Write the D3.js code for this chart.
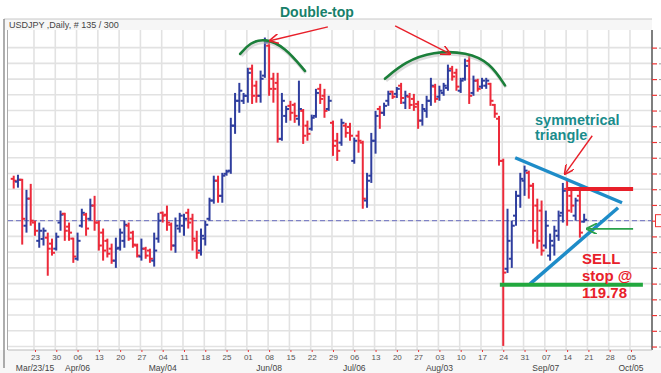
<!DOCTYPE html>
<html>
<head>
<meta charset="utf-8">
<script src="https://cdn.jsdelivr.net/npm/d3@7"></script>
<style>
body { margin: 0; background: #fff; }
svg { display: block; font-family: Arial, "Liberation Sans", sans-serif; }
</style>
</head>
<body>
<div id="chart"></div>
<script>
// first bar of the chart (Monday), bars are weekdays only
var startDay = "2015-03-16";

var opens = [121.33,121.24,121.30,119.84,120.70,119.94,119.36,119.42,119.46,119.27,
  119.11,119.94,120.22,119.81,119.43,118.79,119.84,120.19,120.06,120.48,
  119.94,119.62,119.36,119.11,118.73,119.14,119.36,119.84,119.62,119.21,
  118.86,119.11,119.05,118.73,119.43,120.25,120.19,119.87,119.21,119.75,
  119.84,120.25,120.06,119.36,119.05,119.43,120.06,120.64,121.27,120.79,
  121.49,121.59,123.02,123.81,123.81,123.97,124.83,124.29,123.97,124.61,
  125.56,124.51,124.38,122.60,123.33,123.65,123.68,123.24,123.49,123.02,
  122.92,123.33,124.19,123.97,123.55,123.11,122.54,122.48,123.02,122.98,
  121.90,122.70,122.48,120.64,121.43,122.54,123.55,123.43,123.81,124.10,
  124.03,124.29,123.75,123.94,123.87,123.71,123.18,123.49,123.81,124.26,
  123.94,124.06,124.22,124.83,124.70,124.13,124.51,125.08,124.06,124.45,
  124.26,124.29,124.35,123.68,123.24,121.90,118.47,118.79,120.16,120.79,
  121.27,121.52,121.11,120.48,120.32,119.21,118.89,119.21,119.52,120.25,
  121.01,120.79,120.16,120.79,119.97];
var highs = [121.43,121.46,121.33,120.98,121.17,120.00,119.94,119.78,119.62,119.43,
  119.62,120.32,120.25,119.94,119.46,119.62,120.38,120.25,120.70,120.79,
  120.00,119.75,119.43,119.27,119.46,119.75,120.00,119.94,119.68,119.27,
  119.43,119.17,119.11,119.62,120.25,120.29,120.48,119.94,120.10,120.25,
  120.22,120.38,120.22,119.68,119.75,120.00,120.73,121.43,121.43,121.52,
  121.62,123.27,124.06,124.38,124.06,124.86,124.96,124.45,124.77,125.82,
  125.72,124.70,124.70,124.06,123.65,123.81,123.75,124.45,123.55,123.18,
  123.37,124.19,124.35,124.19,123.97,123.18,122.79,123.24,123.11,123.11,
  122.64,122.86,122.54,121.52,122.79,123.49,123.65,123.75,124.13,124.13,
  124.25,124.38,124.13,124.06,124.03,123.81,123.71,123.97,124.54,124.35,
  124.29,124.38,124.96,124.92,124.83,124.54,125.15,125.24,124.61,124.51,
  124.54,124.54,124.38,123.71,123.33,121.97,120.38,120.00,120.95,121.52,
  121.75,121.59,121.20,120.70,120.64,120.32,119.59,119.84,120.32,121.20,
  121.27,120.95,120.73,121.08,120.22];
var lows = [121.02,121.05,119.24,119.62,119.84,119.52,119.14,119.21,118.25,118.89,
  119.05,119.68,119.36,119.36,118.66,118.73,119.78,119.52,120.00,119.68,
  119.05,118.73,118.83,118.63,118.50,119.05,119.14,119.36,119.14,118.83,
  118.73,118.79,118.66,118.54,119.30,119.94,119.68,119.05,118.98,119.62,
  119.52,119.75,119.05,118.79,118.89,119.21,120.00,120.54,120.57,120.57,
  121.43,121.49,122.76,123.43,123.71,123.75,123.71,123.75,123.75,124.54,
  123.97,123.75,122.48,122.54,123.11,123.18,123.11,123.02,122.44,122.54,
  122.86,123.27,123.71,123.27,123.49,122.06,121.90,122.38,122.64,122.54,
  121.81,122.16,120.38,120.41,121.20,122.13,122.92,123.33,123.65,123.87,
  123.90,123.71,123.55,123.55,123.49,122.92,123.02,123.27,123.65,123.75,
  123.81,123.97,124.13,124.45,124.13,124.06,124.45,123.71,123.97,124.10,
  124.19,124.19,123.65,123.27,121.75,116.02,118.34,118.50,119.84,120.41,
  120.79,120.70,119.27,119.11,118.89,119.11,118.73,118.89,119.36,119.94,
  119.84,120.25,120.00,119.46,119.94];
var closes = [121.27,121.30,120.06,120.70,120.00,119.68,119.68,119.68,119.11,118.98,
  119.49,120.19,119.68,119.62,118.86,119.36,120.25,119.75,120.48,119.94,
  119.21,119.05,118.95,118.73,119.11,119.62,119.87,119.43,119.24,118.89,
  119.11,118.89,118.79,119.05,120.00,120.16,119.94,119.21,119.84,120.16,
  120.06,119.94,119.43,118.98,119.52,119.87,120.64,121.27,120.79,121.43,
  121.56,123.02,123.81,124.13,123.97,124.70,123.97,123.97,124.51,125.66,
  124.19,124.19,122.60,123.81,123.55,123.43,123.33,123.55,122.70,122.76,
  123.27,124.06,123.87,123.49,123.81,122.38,122.22,123.11,122.79,122.70,
  122.54,122.54,120.70,121.27,122.54,123.33,123.43,123.65,124.03,123.94,
  124.19,123.90,123.97,123.68,123.62,123.18,123.55,123.81,124.29,123.87,
  124.13,124.29,124.77,124.58,124.26,124.45,124.92,123.97,124.45,124.19,
  124.45,124.45,123.81,123.40,121.90,118.35,119.36,119.84,120.79,121.33,
  121.59,121.11,119.68,119.36,119.05,119.84,119.36,119.68,120.16,120.95,
  120.32,120.48,120.64,119.62,120.03];

var weekLabels = ["23","30","06","13","20","27","04","11","18","25","01","08","15","22","29",
  "06","13","20","27","03","10","17","24","31","07","14","21","28","05"];
var firstWeek = "2015-03-23";
var monthLabels = ["Mar/23/15","Apr/06","May/04","Jun/08","Jul/06","Aug/03","Sep/07","Oct/05"];
var monthDays = ["2015-03-23","2015-04-06","2015-05-04","2015-06-08","2015-07-06","2015-08-03","2015-09-07","2015-10-05"];
var priceTicks = [116,116.5,117,117.5,118,118.5,119,119.5,120,120.5,121,121.5,122,122.5,
  123,123.5,124,124.5,125,125.5];
var lastPrice = 120.00;
var title = "USDJPY ,Daily, # 135 / 300";

var W = 661, H = 373;
var plot = {left: 8, right: 652, top: 30, bottom: 350};
var upColor = "#2f3e9e", downColor = "#ec2a3a";

var parse = d3.timeParse("%Y-%m-%d");
var t0 = parse(startDay);
function dayIndex(s) {
  var d = parse(s);
  var days = Math.round((d - t0) / 864e5);
  return Math.floor(days / 7) * 5 + (days % 7);
}

var bars = opens.map(function(o, i) {
  return {i: i, open: o, high: highs[i], low: lows[i], close: closes[i]};
});

var x = d3.scaleLinear().domain([-1.34, 149.94]).range([plot.left, plot.right]);
var y = d3.scaleLinear().domain([115.89, 126.06]).range([plot.bottom, plot.top]);

var svg = d3.select("#chart").append("svg")
  .attr("width", W).attr("height", H);

// bottom band for date labels
svg.append("rect").attr("x", 0).attr("y", plot.bottom).attr("width", W).attr("height", H - plot.bottom)
  .attr("fill", "#f7f7f7");

// title strip
svg.append("rect").attr("x", 4).attr("y", 19).attr("width", plot.right - 4).attr("height", plot.top - 19)
  .attr("fill", "#f6f6f6");
svg.append("line").attr("x1", 4).attr("x2", plot.right).attr("y1", 19).attr("y2", 19)
  .attr("stroke", "#c8c8c8");
svg.append("text").attr("x", 9).attr("y", 28).text(title)
  .style("font-size", "9px").attr("fill", "#444");

// grid
var weekIdx = weekLabels.map(function(l, j) { return dayIndex(firstWeek) + j * 5; });
svg.append("g").selectAll("line").data(weekIdx).enter().append("line")
  .attr("x1", function(d) { return x(d) - 1; }).attr("x2", function(d) { return x(d) - 1; })
  .attr("y1", plot.top).attr("y2", plot.bottom)
  .attr("stroke", "#e2e2e2").attr("stroke-width", 1.6);
svg.append("g").selectAll("line").data(priceTicks).enter().append("line")
  .attr("x1", plot.left).attr("x2", plot.right)
  .attr("y1", function(d) { return y(d); }).attr("y2", function(d) { return y(d); })
  .attr("stroke", "#e2e2e2").attr("stroke-width", 1.6);

// frame
svg.append("line").attr("x1", plot.right).attr("x2", plot.right).attr("y1", plot.top).attr("y2", plot.bottom)
  .attr("stroke", "#555").attr("stroke-width", 1.5);
svg.append("line").attr("x1", plot.left).attr("x2", plot.right).attr("y1", plot.bottom).attr("y2", plot.bottom)
  .attr("stroke", "#bbb").attr("stroke-width", 1);
svg.append("line").attr("x1", 4).attr("x2", 4).attr("y1", 19).attr("y2", 368)
  .attr("stroke", "#777").attr("stroke-width", 1.2);
svg.append("line").attr("x1", 7.5).attr("x2", 7.5).attr("y1", plot.top).attr("y2", plot.bottom)
  .attr("stroke", "#aaa").attr("stroke-width", 1);

// right price axis: only the red ticks and the first grey stroke of each
// label fit inside the window, so draw just those
var yAxis = svg.append("g").attr("transform", "translate(" + plot.right + ",0)")
  .call(d3.axisRight(y).tickValues(priceTicks).tickSize(5).tickFormat(""));
yAxis.select(".domain").remove();
yAxis.selectAll("line").attr("stroke", "#e33").attr("stroke-width", 1.2);
yAxis.selectAll(".tick").append("line")
  .attr("x1", 7).attr("x2", 9).attr("y1", 0).attr("y2", 0)
  .attr("stroke", "#999").attr("stroke-width", 1);

// bottom date axis
var xAxis = svg.append("g").attr("transform", "translate(0," + plot.bottom + ")")
  .call(d3.axisBottom(x).tickValues(weekIdx).tickSize(2)
    .tickFormat(function(d, j) { return weekLabels[j]; }));
xAxis.select(".domain").remove();
xAxis.selectAll("line").attr("stroke", "#e33");
xAxis.selectAll("text").attr("y", 4).attr("dy", "0.71em").attr("fill", "#555").style("font-size", "8px");

svg.append("g").selectAll("text").data(monthLabels).enter().append("text")
  .attr("x", function(d, j) { return x(dayIndex(monthDays[j])); })
  .attr("y", 371).attr("text-anchor", "middle")
  .style("font-size", "8.5px").attr("fill", "#444")
  .text(function(d) { return d; });

// current price line and its (clipped) price box
svg.append("line").attr("x1", plot.left).attr("x2", plot.right)
  .attr("y1", y(lastPrice)).attr("y2", y(lastPrice))
  .attr("stroke", "#6b6fc0").attr("stroke-width", 1).attr("stroke-dasharray", "5,3");
svg.append("rect").attr("x", 655.5).attr("y", y(lastPrice) - 6).attr("width", 14).attr("height", 12)
  .attr("fill", "#fff").attr("stroke", "#e33");

// OHLC bars
var g = svg.append("g");
var barG = g.selectAll("g.bar").data(bars).enter().append("g").attr("class", "bar")
  .attr("stroke", function(d) { return d.close >= d.open ? upColor : downColor; })
  .attr("stroke-width", 2);
barG.append("line")
  .attr("x1", function(d) { return x(d.i); }).attr("x2", function(d) { return x(d.i); })
  .attr("y1", function(d) { return y(d.high); }).attr("y2", function(d) { return y(d.low); });
barG.append("line")
  .attr("x1", function(d) { return x(d.i) - 3; }).attr("x2", function(d) { return x(d.i); })
  .attr("y1", function(d) { return y(d.open); }).attr("y2", function(d) { return y(d.open); });
barG.append("line")
  .attr("x1", function(d) { return x(d.i); }).attr("x2", function(d) { return x(d.i) + 3; })
  .attr("y1", function(d) { return y(d.close); }).attr("y2", function(d) { return y(d.close); });

// ---- hand drawn annotations, in (bar index, price) ----
var defs = svg.append("defs");
function marker(id, color) {
  defs.append("marker").attr("id", id).attr("viewBox", "0 0 10 10")
    .attr("refX", 9).attr("refY", 5).attr("markerWidth", 7).attr("markerHeight", 7)
    .attr("orient", "auto-start-reverse")
    .append("path").attr("d", "M0,0 L10,5 L0,10").attr("fill", "none")
    .attr("stroke", color).attr("stroke-width", 1.6);
}
marker("redHead", "#e8202a");
marker("greenHead", "#2aa14a");

var line = d3.line().x(function(p) { return x(p[0]); }).y(function(p) { return y(p[1]); });
var curve = d3.line().x(function(p) { return x(p[0]); }).y(function(p) { return y(p[1]); })
  .curve(d3.curveBasis);

var topArcs = [
  [[53.2, 125.30], [55.5, 125.66], [59.0, 125.80], [63.7, 125.52], [68.4, 124.76]],
  [[87.2, 124.51], [91.9, 125.05], [98.5, 125.38], [106.5, 125.36], [111.9, 125.02], [115.4, 124.30]]
];
topArcs.forEach(function(a) {
  svg.append("path").attr("d", curve(a)).attr("fill", "none")
    .attr("stroke", "#bbb").attr("stroke-width", 3.5).attr("opacity", 0.5)
    .attr("transform", "translate(1,2)");
  svg.append("path").attr("d", curve(a)).attr("fill", "none")
    .attr("stroke", "#1b7f3a").attr("stroke-width", 2.6).attr("stroke-linecap", "round");
});

var redArrows = [
  [[73.8, 126.16], [60.2, 125.72]],
  [[89.6, 126.19], [102.5, 125.30]],
  [[135.9, 122.70], [129.5, 121.49]]
];
redArrows.forEach(function(a) {
  svg.append("path").attr("d", line(a)).attr("stroke", "#e8202a").attr("stroke-width", 1.4)
    .attr("fill", "none").attr("marker-end", "url(#redHead)");
});

var triangle = [
  [[117.8, 122.00], [142.9, 120.57]],
  [[121.3, 117.99], [141.97, 120.41]]
];
triangle.forEach(function(a) {
  svg.append("path").attr("d", line(a)).attr("stroke", "#1e8cc8").attr("stroke-width", 3.5)
    .attr("fill", "none");
});

svg.append("path").attr("d", line([[130.2, 121.01], [145.5, 121.01]]))
  .attr("stroke", "#e8202a").attr("stroke-width", 4);
svg.append("path").attr("d", line([[114.2, 117.96], [147.8, 117.96]]))
  .attr("stroke", "#22a83e").attr("stroke-width", 4);
svg.append("path").attr("d", line([[145.5, 119.74], [134.7, 119.74]]))
  .attr("stroke", "#2aa14a").attr("stroke-width", 1.6).attr("fill", "none")
  .attr("marker-end", "url(#greenHead)");

svg.append("text").attr("x", 280).attr("y", 17).text("Double-top")
  .attr("fill", "#17806a").style("font-size", "14px").style("font-weight", "bold");
svg.append("text").attr("x", 535).attr("y", 125).text("symmetrical")
  .attr("fill", "#1a8c8c").style("font-size", "14.5px").style("font-weight", "bold");
svg.append("text").attr("x", 535).attr("y", 140).text("triangle")
  .attr("fill", "#1a8c8c").style("font-size", "14.5px").style("font-weight", "bold");
["SELL", "stop @", "119.78"].forEach(function(t, j) {
  svg.append("text").attr("x", 582).attr("y", 264 + j * 17).text(t)
    .attr("fill", "#e8202a").style("font-size", "15px").style("font-weight", "bold");
});
</script>
</body>
</html>
